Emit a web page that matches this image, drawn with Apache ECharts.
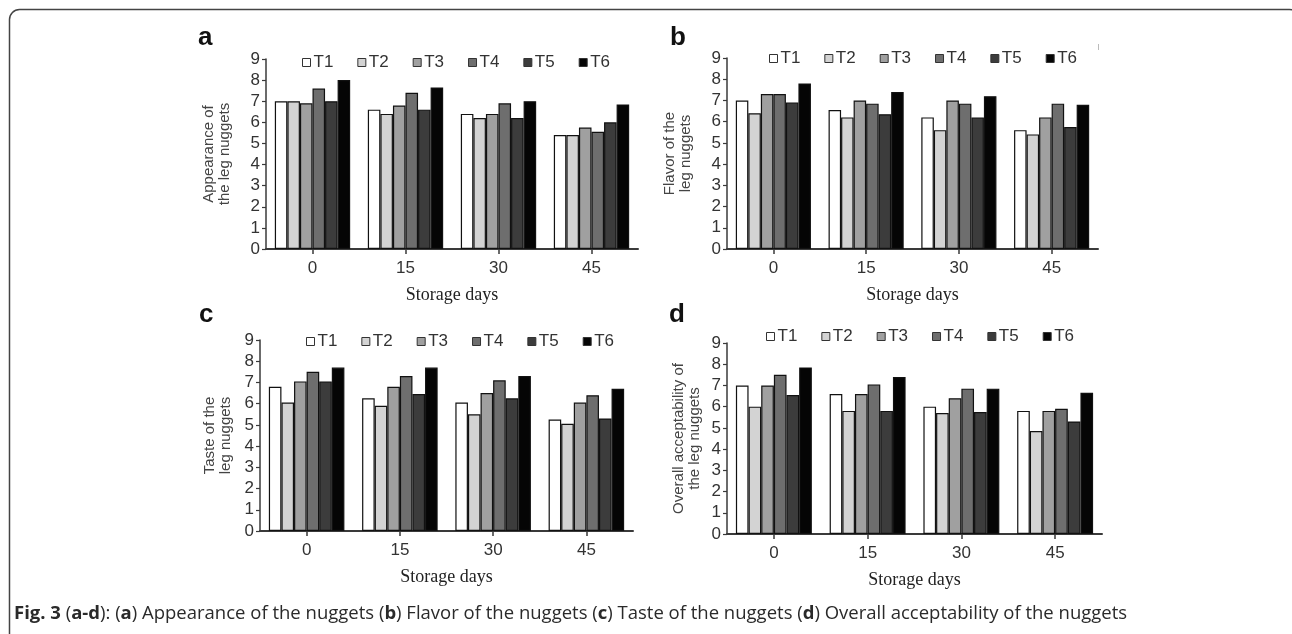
<!DOCTYPE html>
<html>
<head>
<meta charset="utf-8">
<script src="https://cdn.jsdelivr.net/npm/echarts@6/dist/echarts.min.js"></script>
<style>
html,body{margin:0;padding:0;background:#fff;}
#chart{width:1292px;height:634px;}
</style>
</head>
<body>
<div id="chart"></div>
<script>
// ---- data ----
const categories = ['0', '15', '30', '45'];
const treatments = ['T1', 'T2', 'T3', 'T4', 'T5', 'T6'];
const yTicks = [0, 1, 2, 3, 4, 5, 6, 7, 8, 9];

// rows: T1..T6, columns: storage days 0,15,30,45
const appearance = [
  [7.0, 6.6, 6.4, 5.4],
  [7.0, 6.4, 6.2, 5.4],
  [6.9, 6.8, 6.4, 5.75],
  [7.6, 7.4, 6.9, 5.55],
  [7.0, 6.6, 6.2, 6.0],
  [8.0, 7.65, 7.0, 6.85]
];
const flavor = [
  [7.0, 6.55, 6.2, 5.6],
  [6.4, 6.2, 5.6, 5.4],
  [7.3, 7.0, 7.0, 6.2],
  [7.3, 6.85, 6.85, 6.85],
  [6.9, 6.35, 6.2, 5.75],
  [7.8, 7.4, 7.2, 6.8]
];
const taste = [
  [6.8, 6.25, 6.05, 5.25],
  [6.05, 5.9, 5.5, 5.05],
  [7.05, 6.8, 6.5, 6.05],
  [7.5, 7.3, 7.1, 6.4],
  [7.05, 6.45, 6.25, 5.3],
  [7.7, 7.7, 7.3, 6.7]
];
const overall = [
  [7.0, 6.6, 6.0, 5.8],
  [6.0, 5.8, 5.7, 4.85],
  [7.0, 6.6, 6.4, 5.8],
  [7.5, 7.05, 6.85, 5.9],
  [6.55, 5.8, 5.75, 5.3],
  [7.85, 7.4, 6.85, 6.65]
];
const yNames = [
  'Appearance of\nthe leg nuggets',
  'Flavor of the\nleg nuggets',
  'Taste of the\nleg nuggets',
  'Overall acceptability of\nthe leg nuggets'
];
const xName = 'Storage days';
const panelLetters = ['a', 'b', 'c', 'd'];
const captionText = '{b|Fig. 3} ({b|a-d}): ({b|a}) Appearance of the nuggets ({b|b}) Flavor of the nuggets ({b|c}) Taste of the nuggets ({b|d}) Overall acceptability of the nuggets';

// ---- layout / style ----
const panels = [appearance, flavor, taste, overall];
const colors = ['#ffffff', '#d3d3d3', '#a0a0a0', '#6e6e6e', '#3c3c3c', '#050505'];
const grids = [
  {left: 266, top: 59, width: 372, height: 190},
  {left: 727, top: 58, width: 371, height: 191},
  {left: 260, top: 340, width: 373, height: 191},
  {left: 727, top: 343, width: 375, height: 191}
];
const nameGaps = [33, 33, 26, 24];
const legendPos = [
  {left: 302, top: 54},
  {left: 769, top: 50},
  {left: 306, top: 333},
  {left: 766, top: 328}
];
const letterPos = [[198, 39], [670, 39], [199, 316], [669, 316]];
const axisColor = '#3a3a3a';
const sans = '"Liberation Sans", Arial, sans-serif';
const serif = '"Liberation Serif", "Times New Roman", serif';
const capFont = '"Open Sans", "Noto Sans", sans-serif';

const option = {
  animation: false,
  backgroundColor: '#ffffff',
  grid: grids.map(g => Object.assign({outerBoundsMode: 'none'}, g)),
  xAxis: grids.map((g, p) => ({
    type: 'category',
    gridIndex: p,
    data: categories,
    name: xName,
    nameLocation: 'middle',
    nameGap: 37,
    nameTextStyle: {fontFamily: serif, fontSize: 18, color: '#222'},
    axisLine: {show: true, lineStyle: {color: axisColor, width: 2}},
    axisTick: {show: true, alignWithLabel: true, length: 5, lineStyle: {color: axisColor, width: 1.5}},
    axisLabel: {fontFamily: sans, fontSize: 17, color: '#333', margin: 11},
    splitLine: {show: false}
  })),
  yAxis: grids.map((g, p) => ({
    type: 'value',
    gridIndex: p,
    min: yTicks[0],
    max: yTicks[yTicks.length - 1],
    interval: 1,
    name: yNames[p],
    nameLocation: 'middle',
    nameRotate: 90,
    nameGap: nameGaps[p],
    nameTextStyle: {fontFamily: sans, fontSize: 15, color: '#444', lineHeight: 16},
    axisLine: {show: true, lineStyle: {color: axisColor, width: 1.5}},
    axisTick: {show: true, length: 4, lineStyle: {color: axisColor, width: 1.2}},
    axisLabel: {fontFamily: sans, fontSize: 17, color: '#333', margin: 6},
    splitLine: {show: false}
  })),
  legend: legendPos.map(lp => ({
    left: lp.left,
    top: lp.top,
    orient: 'horizontal',
    data: treatments,
    icon: 'rect',
    itemWidth: 8,
    itemHeight: 8,
    itemGap: 24,
    padding: 0,
    selectedMode: false,
    itemStyle: {borderColor: '#333', borderWidth: 1},
    textStyle: {fontFamily: sans, fontSize: 17, color: '#333', padding: [0, 0, 0, -2]}
  })),
  series: [],
  graphic: []
};

panels.forEach((pdata, p) => {
  pdata.forEach((vals, i) => {
    option.series.push({
      type: 'bar',
      name: treatments[i],
      xAxisIndex: p,
      yAxisIndex: p,
      data: vals,
      barGap: '0%',
      barCategoryGap: '19%',
      itemStyle: {color: colors[i], borderColor: '#111', borderWidth: 1.2},
      emphasis: {disabled: true}
    });
  });
});

panelLetters.forEach((l, p) => {
  option.graphic.push({
    type: 'text',
    left: letterPos[p][0],
    top: letterPos[p][1] - 14,
    style: {text: l, font: 'bold 26px ' + sans, fill: '#111'}
  });
});

option.graphic.push({
  type: 'rect',
  shape: {x: 9.5, y: 9.5, width: 1290, height: 700, r: 10},
  style: {fill: 'none', stroke: '#444', lineWidth: 1.5},
  silent: true
});
option.graphic.push({
  type: 'line',
  shape: {x1: 1098.5, y1: 44, x2: 1098.5, y2: 50},
  style: {stroke: '#bbb', lineWidth: 1}
});
option.graphic.push({
  type: 'text',
  left: 14,
  top: 604,
  style: {
    text: captionText,
    fontFamily: capFont,
    fontSize: 18.5,
    fill: '#2a2a2a',
    rich: {b: {fontWeight: 'bold', fontFamily: capFont, fontSize: 18.5, fill: '#2a2a2a'}}
  }
});

const chart = echarts.init(document.getElementById('chart'), null, {renderer: 'canvas'});
chart.setOption(option);
</script>
</body>
</html>
